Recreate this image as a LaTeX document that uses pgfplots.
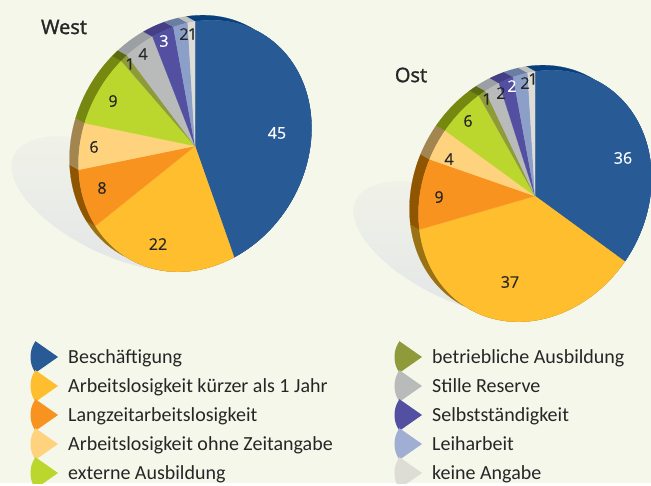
\documentclass[border=0pt]{standalone}
\usepackage{fontspec}
\usepackage{pgfplots}
\pgfplotsset{compat=1.18}
\setmainfont{Carlito}
\newfontfamily\numfont{Open Sans}[FakeBold=0.4]
\newfontfamily\titlefont{Open Sans}[FakeBold=1.6]

\definecolor{bg}{HTML}{F5F7EA}
% top face / rim of each category
\definecolor{cBes}{HTML}{285A96}  \definecolor{sBes}{HTML}{0A3F7E}
\definecolor{cKur}{HTML}{FFBE2E}  \definecolor{sKur}{HTML}{9A7214}
\definecolor{cLan}{HTML}{F8931F}  \definecolor{sLan}{HTML}{8F5500}
\definecolor{cOhn}{HTML}{FFD27D}  \definecolor{sOhn}{HTML}{A38550}
\definecolor{cExt}{HTML}{BBD72D}  \definecolor{sExt}{HTML}{76880F}
\definecolor{cBet}{HTML}{8F9B3A}  \definecolor{sBet}{HTML}{5A6B12}
\definecolor{cSti}{HTML}{B9BBBB}  \definecolor{sSti}{HTML}{9C9FA3}
\definecolor{cSel}{HTML}{5350A2}  \definecolor{sSel}{HTML}{453F85}
\definecolor{cLei}{HTML}{8C9FC9}  \definecolor{sLei}{HTML}{6A7DA3}
\definecolor{cKei}{HTML}{DDDDD6}  \definecolor{sKei}{HTML}{C0C0BC}
\definecolor{keyLei}{HTML}{9FAED2}
\definecolor{shadowA}{HTML}{F0F2E8}
\definecolor{shadowB}{HTML}{E4E6E8}

% tilted pie outline, th clockwise from the top
\newcommand{\slicepts}[4]{% from, to (degrees), cx, cy
  \pgfmathtruncatemacro\nst{max(2,ceil((#2-#1)/2))}
  \xdef\face{(#3,#4)}\xdef\rimA{}\xdef\rimB{}
  \foreach \i in {0,...,\nst}{
    \pgfmathsetmacro\th{#1+\i*(#2-#1)/\nst}
    \pgfmathsetmacro\px{#3+116.5*sin(\th)}
    \pgfmathsetmacro\py{#4-18*sin(\th)-124.5*cos(\th)}
    \pgfmathsetmacro\qx{\px-9}
    \pgfmathsetmacro\qy{\py-5}
    \xdef\face{\face (\px,\py)}
    \xdef\rimA{\rimA (\px,\py)}
    \xdef\rimB{(\qx,\qy) \rimB}
  }
}
\newcommand{\pie}[4]{% cx, cy, total, value/category list
  \xdef\cum{0}
  \foreach \v/\c in {#4}{
    \pgfmathsetmacro\sa{\cum/#3*360}
    \pgfmathsetmacro\sb{(\cum+\v)/#3*360}
    \slicepts{\sa}{\sb}{#1}{#2}
    \edef\temp{\noexpand\addplot[draw=s\c,line width=.2pt,fill=s\c] coordinates {\rimA\space\rimB} -- cycle;}
    \temp
    \pgfmathsetmacro\n{\cum+\v}
    \xdef\cum{\n}
  }
  \xdef\cum{0}
  \foreach \v/\c in {#4}{
    \pgfmathsetmacro\sa{\cum/#3*360}
    \pgfmathsetmacro\sb{(\cum+\v)/#3*360}
    \slicepts{\sa}{\sb}{#1}{#2}
    \edef\temp{\noexpand\addplot[draw=c\c,line width=.2pt,fill=c\c] coordinates {\face} -- cycle;}
    \temp
    \pgfmathsetmacro\n{\cum+\v}
    \xdef\cum{\n}
  }
}
\newcommand{\shadow}[2]{% centre of the drop shadow
  \xdef\pts{}
  \foreach \i in {0,5,...,355}{
    \pgfmathsetmacro\ux{115*cos(\i)}
    \pgfmathsetmacro\uy{52*sin(\i)}
    \pgfmathsetmacro\sx{#1+\ux*cos(25)-\uy*sin(25)}
    \pgfmathsetmacro\sy{#2+\ux*sin(25)+\uy*cos(25)}
    \xdef\pts{\pts (\sx,\sy)}
  }
  \edef\temp{\noexpand\addplot[draw=none,top color=shadowA,bottom color=shadowB] coordinates {\pts} -- cycle;}
  \temp
}
\newcommand{\key}[4]{% apex x, y, colour, text
  \xdef\pts{(#1,#2)}
  \foreach \i in {-35,-30,...,35}{
    \pgfmathsetmacro\sx{#1-27.5*cos(\i)}
    \pgfmathsetmacro\sy{#2+27.5*sin(\i)}
    \xdef\pts{\pts (\sx,\sy)}
  }
  \edef\temp{\noexpand\addplot[draw=none,fill=#3] coordinates {\pts} -- cycle;}
  \temp
  \node[anchor=west,inner sep=0pt,text=black!85,font=\legfont] at (axis cs:#1+10,#2+1.5) {\strut #4};
}
\newcommand{\legfont}{\fontsize{20}{23}\selectfont}
\newcommand{\val}[4][black!85]{\node[text=#1,inner sep=0pt,font=\numfont\fontsize{16}{18}\selectfont] at (axis cs:#2,#3) {#4};}

\begin{document}
\begin{tikzpicture}
\begin{axis}[
  hide axis, scale only axis,
  width=651pt, height=483pt,
  xmin=0, xmax=651, ymin=0, ymax=483,
  y dir=reverse,
  enlargelimits=false,
  clip mode=individual,
]
\addplot[draw=none,fill=bg] coordinates {(0,0) (651,0) (651,483) (0,483)} -- cycle;

\shadow{118}{204}
\shadow{460}{249}

% West
\pie{195}{146}{101}{45/Bes,22/Kur,8/Lan,6/Ohn,9/Ext,1/Bet,4/Sti,3/Sel,2/Lei,1/Kei}
% Ost
\pie{535}{196}{100}{36/Bes,37/Kur,9/Lan,4/Ohn,6/Ext,1/Bet,2/Sti,2/Sel,2/Lei,1/Kei}

\node[font=\titlefont\fontsize{20}{24}\selectfont,text=black!85] at (axis cs:64,27) {West};
\node[font=\titlefont\fontsize{20}{24}\selectfont,text=black!85] at (axis cs:411,75) {Ost};

\val[white]{277}{133}{45}
\val{158}{244}{22}
\val{102}{188}{8}
\val{94}{147}{6}
\val{113}{101}{9}
\val{130}{64}{1}
\val{143}{54}{4}
\val[white]{164}{41}{3}
\val{184}{34}{2}
\val{192.5}{34}{1}

\val[white]{623}{158}{36}
\val{510}{282}{37}
\val{439}{197}{9}
\val{449}{159}{4}
\val{468}{121}{6}
\val{487}{99}{1}
\val{501}{93}{2}
\val[white]{512}{86}{2}
\val{525}{83}{2}
\val{533}{79}{1}

\key{58}{357}{cBes}{Beschäftigung}
\key{58}{386}{cKur}{Arbeitslosigkeit kürzer als 1 Jahr}
\key{58}{415}{cLan}{Langzeitarbeitslosigkeit}
\key{58}{444}{cOhn}{Arbeitslosigkeit ohne Zeitangabe}
\key{58}{473}{cExt}{externe Ausbildung}
\key{422}{357}{cBet}{betriebliche Ausbildung}
\key{422}{386}{cSti}{Stille Reserve}
\key{422}{415}{cSel}{Selbstständigkeit}
\key{422}{444}{keyLei}{Leiharbeit}
\key{422}{473}{cKei}{keine Angabe}
\end{axis}
\end{tikzpicture}
\end{document}
